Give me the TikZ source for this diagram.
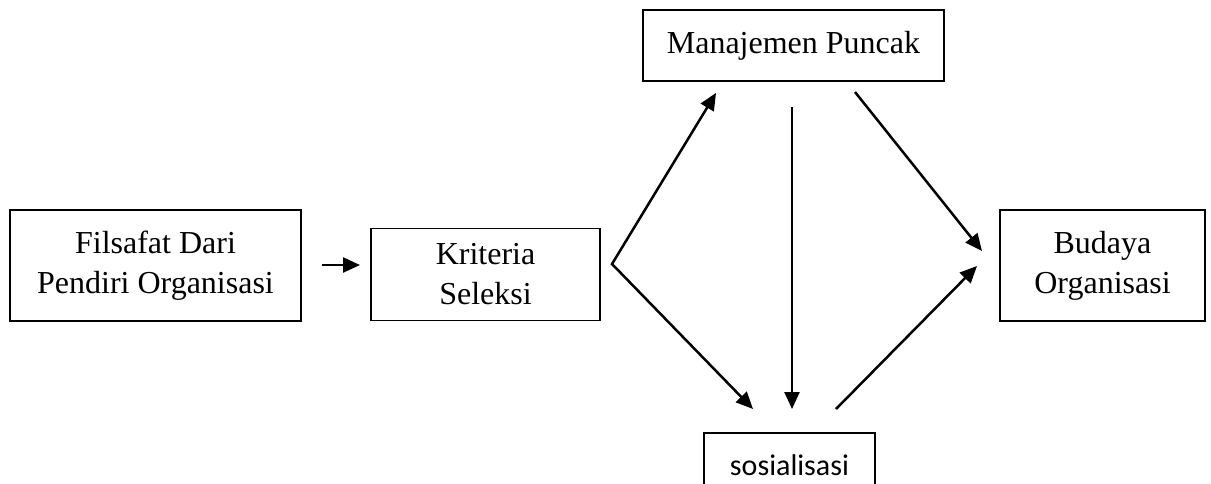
\documentclass[tikz,border=0pt]{standalone}
\usepackage{fontspec}
\setmainfont{Liberation Serif}
\newfontfamily\carlitofont{Carlito}
\usetikzlibrary{arrows.meta}
\begin{document}
\begin{tikzpicture}[x=1pt,y=-1pt,
  box/.style={draw, line width=1.6pt, inner sep=0pt, align=center, font=\fontsize{32}{40}\selectfont},
  conn/.style={line width=2.5pt, -{Triangle[length=17pt,width=15pt]}},
  vconn/.style={line width=2.5pt, {Triangle[length=17pt,width=15pt]}-{Triangle[length=17pt,width=15pt]}}]
\useasboundingbox (0,0) rectangle (1211,483);
\clip (0,0) rectangle (1211,483);
\node[box, minimum width=291pt, minimum height=111pt] (fil) at (155.5,265.5) {Filsafat Dari\\Pendiri Organisasi};
\node[box, minimum width=229pt, minimum height=92pt] (kri) at (485.5,274.5) {Kriteria\\Seleksi};
\node[box, minimum width=301pt, minimum height=71pt] (man) at (793.5,45.5) {Manajemen Puncak};
\node[box, minimum width=205pt, minimum height=111pt] (bud) at (1102.5,265.5) {Budaya\\Organisasi};
\node[box, minimum width=171pt, minimum height=64pt, font=\carlitofont\fontsize{30}{36}\selectfont] (sos) at (789.5,465) {sosialisasi};
% connector points
\coordinate (a1) at (322,265);
\coordinate (a2) at (360,265);
\coordinate (vtx) at (612,264);
\coordinate (tman) at (716,93);
\coordinate (tsos) at (753,409);
\coordinate (d1) at (792,107);
\coordinate (d2) at (792,409);
\coordinate (e1) at (855,92);
\coordinate (e2) at (982,251);
\coordinate (f1) at (836,409);
\coordinate (f2) at (977,266);
\draw[conn] (a1) -- (a2);
\draw[vconn] (tman) -- (vtx) -- (tsos);
\draw[conn] (d1) -- (d2);
\draw[conn] (e1) -- (e2);
\draw[conn] (f1) -- (f2);
\end{tikzpicture}
\end{document}
